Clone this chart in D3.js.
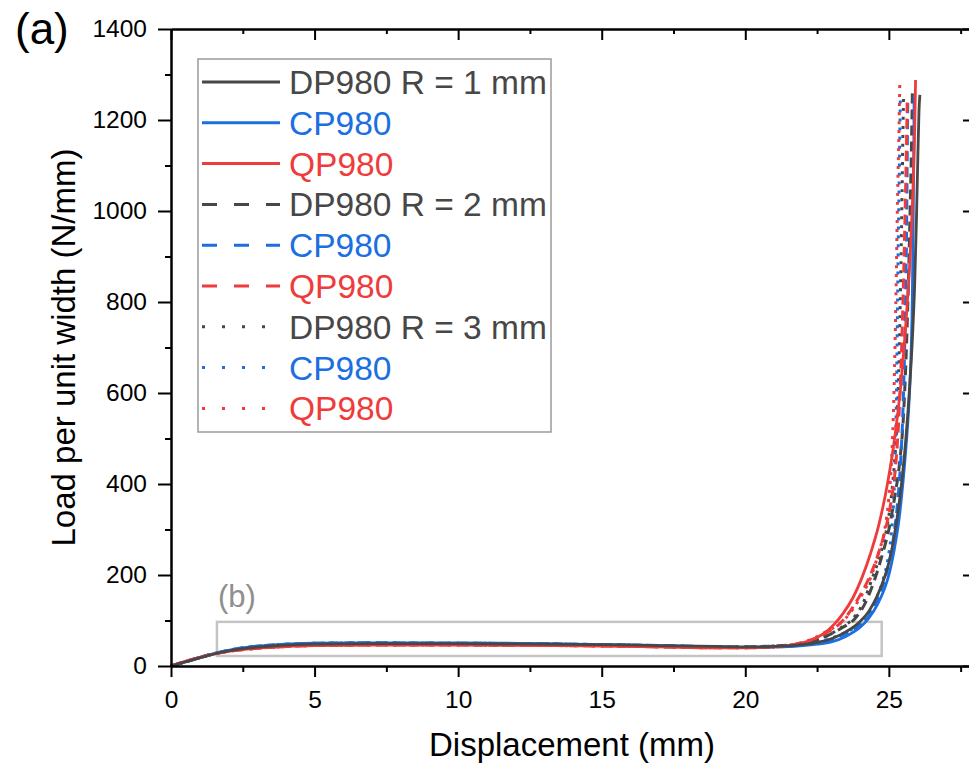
<!DOCTYPE html>
<html><head><meta charset="utf-8">
<script src="https://cdn.jsdelivr.net/npm/d3@7/dist/d3.min.js"></script>
<style>
html,body{margin:0;padding:0;background:#fff;}
svg{display:block;font-family:"Liberation Sans",Arial,sans-serif;}
</style></head>
<body>
<svg id="chart" width="969" height="768"></svg>
<script>
// ---------- data ----------
const xTicks = [0, 5, 10, 15, 20, 25];
const xMinorTicks = [2.5, 7.5, 12.5, 17.5, 22.5, 27.5];
const yTicks = [0, 200, 400, 600, 800, 1000, 1200, 1400];
const yMinorTicks = [100, 300, 500, 700, 900, 1100, 1300];

const legendLabels = ["DP980 R = 1 mm","CP980","QP980","DP980 R = 2 mm","CP980","QP980","DP980 R = 3 mm","CP980","QP980"];

// displacement (mm), load per unit width (N/mm)
const dp1 = [[0,0],[0.5,9],[1,18],[1.6,28],[2.5,38],[3.5,44],[5,48],[7,49],[10,49],[13,48],[15,47],[17,45],[19,43],[20,42],[21,43],[21.8,46],[22.5,52],[23.0,60],[23.5,75],[24.0,98],[24.3,120],[24.6,155],[24.85,195],[25.05,240],[25.25,310],[25.45,405],[25.6,505],[25.72,610],[25.82,720],[25.9,840],[25.96,980],[26.01,1120],[26.05,1220],[26.08,1255]];
const cp1 = [[0,0],[0.5,9],[1,19],[1.6,29],[2.5,40],[3.5,46],[5,50],[7,51],[10,51],[13,49],[15,47],[17,45],[19,42],[20,41],[21,42],[21.8,44],[22.5,48],[23.0,53],[23.5,65],[24.0,85],[24.3,105],[24.6,135],[24.85,170],[25.0,200],[25.2,260],[25.35,320],[25.5,409],[25.62,500],[25.72,600],[25.78,700],[25.82,820],[25.85,1000],[25.87,1150],[25.88,1255]];
const qp1 = [[0,0],[0.5,10],[1,19],[1.6,28],[2.5,36],[3.5,41],[5,45],[7,46],[10,46],[13,45],[15,44],[17,42],[19,40],[20,40],[21,42],[21.6,46],[22.2,55],[22.7,70],[23.1,92],[23.4,115],[23.75,150],[24.05,192],[24.35,245],[24.65,310],[24.95,400],[25.2,500],[25.42,620],[25.6,760],[25.74,900],[25.84,1050],[25.9,1180],[25.93,1288]];
const dp2 = [[0,0],[0.5,9],[1,18],[1.6,28],[2.5,38],[3.5,44],[5,48],[7,49],[10,49],[13,48],[15,46],[17,44],[19,42],[20,42],[21,44],[21.8,48],[22.4,56],[22.9,68],[23.4,85],[23.8,103],[24.15,135],[24.5,189],[24.75,240],[25.0,300],[25.2,370],[25.38,450],[25.5,540],[25.6,680],[25.68,840],[25.74,1000],[25.79,1150],[25.82,1262]];
const cp2 = [[0,0],[0.5,9],[1,19],[1.6,29],[2.5,40],[3.5,46],[5,50],[7,51],[10,50],[13,49],[15,47],[17,45],[19,42],[20,41],[21,42],[21.8,45],[22.5,51],[23.2,63],[23.8,82],[24.2,101],[24.55,138],[24.85,189],[25.05,240],[25.2,299],[25.32,370],[25.42,460],[25.5,580],[25.55,700],[25.59,830],[25.62,980],[25.64,1120],[25.66,1250]];
const qp2 = [[0,0],[0.5,10],[1,19],[1.6,28],[2.5,36],[3.5,41],[5,45],[7,46],[10,46],[13,45],[15,44],[17,42],[19,40],[20,40],[21,42],[21.6,46],[22.2,55],[22.8,72],[23.4,100],[23.9,145],[24.3,192],[24.65,250],[24.9,305],[25.1,370],[25.25,450],[25.36,560],[25.44,690],[25.5,820],[25.56,980],[25.61,1130],[25.64,1244]];
const dp3 = [[0,0],[0.5,9],[1,18],[1.6,28],[2.5,38],[3.5,44],[5,48],[7,49],[10,49],[13,48],[15,46],[17,44],[19,42],[20,42],[21,44],[21.8,47],[22.4,56],[22.9,68],[23.3,83],[23.7,101],[24.1,138],[24.4,189],[24.7,245],[24.92,300],[25.1,380],[25.22,470],[25.31,580],[25.37,720],[25.42,880],[25.46,1040],[25.49,1170],[25.51,1250]];
const cp3 = [[0,0],[0.5,9],[1,19],[1.6,29],[2.5,40],[3.5,46],[5,50],[7,51],[10,50],[13,49],[15,47],[17,45],[19,42],[20,41],[21,42],[21.8,45],[22.5,52],[23.2,66],[23.8,84],[24.2,103],[24.5,140],[24.8,190],[24.98,240],[25.1,300],[25.18,380],[25.23,480],[25.27,620],[25.3,780],[25.33,940],[25.37,1110],[25.4,1255]];
const qp3 = [[0,0],[0.5,10],[1,19],[1.6,28],[2.5,36],[3.5,41],[5,45],[7,46],[10,46],[13,45],[15,44],[17,42],[19,40],[20,40],[21,42],[21.6,46],[22.2,56],[22.8,75],[23.5,105],[24.0,150],[24.35,192],[24.65,250],[24.87,305],[25.0,370],[25.1,460],[25.17,580],[25.22,720],[25.26,860],[25.3,1020],[25.35,1170],[25.38,1281]];

const zoomBoxX = [1.6, 24.75];
const zoomBoxY = [22, 97];

// ---------- styles ----------
const DARK = "#474747", BLUE = "#1b6fe0", RED = "#ef3b3b";
const seriesList = [
  {data: dp3, color: DARK, style: "dot"},
  {data: cp3, color: BLUE, style: "dot"},
  {data: qp3, color: RED,  style: "dot"},
  {data: dp2, color: DARK, style: "dash"},
  {data: cp2, color: BLUE, style: "dash"},
  {data: qp2, color: RED,  style: "dash"},
  {data: cp1, color: BLUE, style: "solid"},
  {data: qp1, color: RED,  style: "solid"},
  {data: dp1, color: DARK, style: "solid"}
];
const legendColors = [DARK,BLUE,RED,DARK,BLUE,RED,DARK,BLUE,RED];
const legendStyles = ["solid","solid","solid","dash","dash","dash","dot","dot","dot"];

const svg = d3.select("#chart");
const L = 171, R = 975, T = 29, B = 666;
const x = d3.scaleLinear().domain([0, 28]).range([L, R]);
const y = d3.scaleLinear().domain([0, 1400]).range([B, T]);

// ---------- zoom box ----------
svg.append("rect")
  .attr("x", x(zoomBoxX[0])).attr("y", y(zoomBoxY[1]))
  .attr("width", x(zoomBoxX[1]) - x(zoomBoxX[0]))
  .attr("height", y(zoomBoxY[0]) - y(zoomBoxY[1]))
  .attr("fill", "none").attr("stroke", "#c4c4c4").attr("stroke-width", 2.5);
svg.append("text").attr("x", x(zoomBoxX[0]) + 1).attr("y", 607)
  .attr("font-size", 31).attr("fill", "#8f8f8f").text("(b)");

// ---------- curves ----------
const line = d3.line().x(d => x(d[0])).y(d => y(d[1])).curve(d3.curveMonotoneX);
const dashPlot = {solid: null, dash: "10,6", dot: "3,6"};
seriesList.forEach(s => {
  svg.append("path").attr("d", line(s.data))
    .attr("fill", "none").attr("stroke", s.color)
    .attr("stroke-width", s.style === "solid" ? 2.8 : 3)
    .attr("stroke-dasharray", dashPlot[s.style])
    .attr("stroke-linejoin", "round");
});

// ---------- axes ----------
const axisStyle = g => {
  g.select(".domain").attr("stroke", "#000").attr("stroke-width", 2);
  g.selectAll(".tick line").attr("stroke", "#000").attr("stroke-width", 2);
  g.selectAll(".tick text").attr("fill", "#000").attr("font-size", 24.5)
    .attr("font-family", "'Liberation Sans', Arial, sans-serif");
};
// bottom
svg.append("g").attr("transform", `translate(0,${B})`)
  .call(d3.axisBottom(x).tickValues(xMinorTicks).tickSize(6).tickSizeOuter(0).tickFormat(""))
  .call(axisStyle);
svg.append("g").attr("transform", `translate(0,${B})`)
  .call(d3.axisBottom(x).tickValues(xTicks).tickSize(11).tickSizeOuter(0).tickPadding(14).tickFormat(d3.format("d")))
  .call(axisStyle);
// top (ticks inward)
svg.append("g").attr("transform", `translate(0,${T})`)
  .call(d3.axisBottom(x).tickValues(xMinorTicks).tickSize(5).tickSizeOuter(0).tickFormat(""))
  .call(axisStyle);
svg.append("g").attr("transform", `translate(0,${T})`)
  .call(d3.axisBottom(x).tickValues(xTicks).tickSize(11).tickSizeOuter(0).tickFormat(""))
  .call(axisStyle);
// left
svg.append("g").attr("transform", `translate(${L},0)`)
  .call(d3.axisLeft(y).tickValues(yMinorTicks).tickSize(6).tickSizeOuter(0).tickFormat(""))
  .call(axisStyle);
svg.append("g").attr("transform", `translate(${L},0)`)
  .call(d3.axisLeft(y).tickValues(yTicks).tickSize(13).tickSizeOuter(0).tickPadding(11).tickFormat(d3.format("d")))
  .call(axisStyle);
// right (ticks inward)
svg.append("g").attr("transform", `translate(${R},0)`)
  .call(d3.axisLeft(y).tickValues(yMinorTicks).tickSize(6).tickSizeOuter(0).tickFormat(""))
  .call(axisStyle);
svg.append("g").attr("transform", `translate(${R},0)`)
  .call(d3.axisLeft(y).tickValues(yTicks).tickSize(12).tickSizeOuter(0).tickFormat(""))
  .call(axisStyle);

// axis titles
svg.append("text").attr("x", 572).attr("y", 756)
  .attr("text-anchor", "middle").attr("font-size", 33).attr("fill", "#000")
  .text("Displacement (mm)");
svg.append("text").attr("transform", `translate(75,${(T + B) / 2}) rotate(-90)`)
  .attr("text-anchor", "middle").attr("font-size", 33).attr("fill", "#000")
  .text("Load per unit width (N/mm)");
svg.append("text").attr("x", 15).attr("y", 44).attr("font-size", 44).attr("fill", "#000").text("(a)");

// ---------- legend ----------
const lg = svg.append("g");
lg.append("rect").attr("x", 198).attr("y", 59).attr("width", 353).attr("height", 373)
  .attr("fill", "#fff").attr("stroke", "#9a9a9a").attr("stroke-width", 1.5);
const dashLegend = {solid: null, dash: "15,17", dot: "3,17"};
legendLabels.forEach((lab, i) => {
  const cy = 82 + i * 40.8;
  lg.append("line").attr("x1", 202).attr("x2", legendStyles[i] === "dot" ? 278 : 280)
    .attr("y1", cy).attr("y2", cy)
    .attr("stroke", legendColors[i]).attr("stroke-width", 3)
    .attr("stroke-dasharray", dashLegend[legendStyles[i]]);
  lg.append("text").attr("x", 289).attr("y", cy + 12)
    .attr("font-size", 33.5).attr("fill", legendColors[i]).text(lab);
});
</script>
</body></html>
